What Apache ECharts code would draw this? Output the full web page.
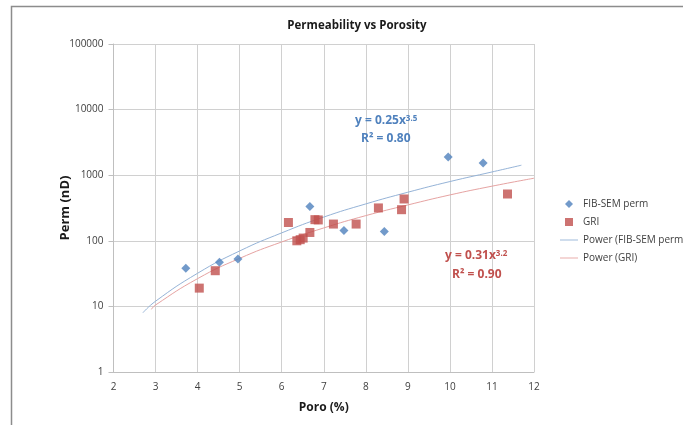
<!DOCTYPE html>
<html>
<head>
<meta charset="utf-8">
<script src="https://cdn.jsdelivr.net/npm/echarts@6/dist/echarts.min.js"></script>
<style>
  html, body { margin: 0; padding: 0; background: #fff; }
  #chartArea { width: 683px; height: 425px; }
</style>
</head>
<body>
<div id="chartArea"></div>
<script>
// 数据 - 读自原图
var fibPoro = [3.72, 4.52, 4.96, 6.67, 7.48, 8.44, 9.96, 10.79];
var fibPerm = [38, 47, 53, 334, 143, 139, 1890, 1530];

var griPoro = [4.04, 4.42, 6.16, 6.36, 6.44, 6.51, 6.67, 6.79, 6.87, 7.23, 7.77, 8.30, 8.85, 8.91, 11.37];
var griPerm = [19, 35, 190, 100, 104, 110, 134, 210, 208, 180, 180, 317, 298, 434, 517];

// 趋势线 (读自图上的曲线)
var fibTrendPoro = [2.7, 3, 4, 5, 6, 7, 8, 9, 10, 11, 11.7];
var fibTrendPerm = [8, 12, 32, 70, 132, 230, 365, 550, 800, 1120, 1420];
var griTrendPoro = [2.9, 3, 4, 5, 6, 7, 8, 9, 10, 11, 12];
var griTrendPerm = [9, 10.5, 26.5, 54, 96, 157, 242, 352, 500, 680, 900];

var seriesNames = ['FIB-SEM perm', 'GRI', 'Power (FIB-SEM perm)', 'Power (GRI)'];
var xTicks = [2, 3, 4, 5, 6, 7, 8, 9, 10, 11, 12];
var yTicks = [1, 10, 100, 1000, 10000, 100000];

function pairs(xs, ys) {
    var out = [];
    for (var i = 0; i < xs.length; i++) {
        out.push([xs[i], ys[i]]);
    }
    return out;
}

var dom = document.getElementById('chartArea');
var myChart = echarts.init(dom, null, {renderer: 'canvas'});

var fontName = '"Open Sans", "Liberation Sans", sans-serif';
var textGray = '#404040';
var blueMark = '#4f81bd';
var redMark = '#c0504d';

var option = {
    animation: false,
    backgroundColor: '#fff',
    textStyle: {fontFamily: fontName},
    title: {
        text: 'Permeability vs Porosity',
        left: 352,
        top: 15,
        textAlign: 'center',
        textStyle: {fontSize: 11.5, fontWeight: 'bold', color: '#1a1a1a', fontFamily: fontName}
    },
    legend: {
        orient: 'vertical',
        left: 555,
        top: 194,
        itemWidth: 18,
        itemHeight: 8,
        itemGap: 8,
        textStyle: {fontSize: 10, color: textGray, fontFamily: fontName},
        data: [
            {name: seriesNames[0], icon: 'path://M5,0 L10,5 L5,10 L0,5 Z'},
            {name: seriesNames[1], icon: 'path://M0,0 H10 V10 H0 Z'},
            {name: seriesNames[2], icon: 'path://M0,0 H20 V1 H0 Z'},
            {name: seriesNames[3], icon: 'path://M0,0 H20 V1 H0 Z'}
        ]
    },
    grid: {
        left: 113.5,
        right: 149,
        top: 44,
        bottom: 53
    },
    xAxis: {
        type: 'value',
        min: xTicks[0],
        max: xTicks[xTicks.length - 1],
        interval: 1,
        name: 'Poro (%)',
        nameLocation: 'middle',
        nameGap: 30,
        nameTextStyle: {fontSize: 12, fontWeight: 'bold', color: '#1a1a1a'},
        axisLine: {show: true, lineStyle: {color: '#bfbfbf'}},
        axisTick: {show: false},
        axisLabel: {fontSize: 10, color: textGray, margin: 10},
        splitLine: {show: true, lineStyle: {color: '#d0d0d0', width: 1}}
    },
    yAxis: {
        type: 'log',
        logBase: 10,
        min: yTicks[0],
        max: yTicks[yTicks.length - 1],
        name: 'Perm (nD)',
        nameLocation: 'middle',
        nameGap: 42,
        nameMoveOverlap: false,
        nameTextStyle: {fontSize: 13, fontWeight: 'bold', color: '#1a1a1a'},
        axisLine: {show: true, lineStyle: {color: '#bfbfbf'}},
        axisTick: {show: true, length: 5, lineStyle: {color: '#bfbfbf'}},
        axisLabel: {
            fontSize: 10,
            color: textGray,
            margin: 10,
            formatter: function (value) {
                return String(Math.round(value));
            }
        },
        splitLine: {show: true, lineStyle: {color: '#d0d0d0', width: 1}},
        minorSplitLine: {show: false}
    },
    graphic: [
        {
            type: 'polyline',
            silent: true,
            shape: {points: [[11.5, 425], [11.5, 6.5], [683, 6.5]]},
            style: {stroke: '#8c8c8c', lineWidth: 1.5, fill: null}
        },
        {
            type: 'text',
            left: 355,
            top: 115,
            z: 100,
            silent: true,
            style: {
                text: '{b|y = 0.25x}{s|3.5}',
                rich: {
                    b: {fontSize: 12, fontWeight: 'bold', fill: blueMark, fontFamily: fontName, verticalAlign: 'bottom'},
                    s: {fontSize: 8, fontWeight: 'bold', fill: blueMark, fontFamily: fontName, verticalAlign: 'top'}
                }
            }
        },
        {
            type: 'text',
            left: 361,
            top: 133,
            z: 100,
            silent: true,
            style: {text: 'R² = 0.80', fontSize: 12, fontWeight: 'bold', fill: blueMark, fontFamily: fontName}
        },
        {
            type: 'text',
            left: 445,
            top: 250,
            z: 100,
            silent: true,
            style: {
                text: '{b|y = 0.31x}{s|3.2}',
                rich: {
                    b: {fontSize: 12, fontWeight: 'bold', fill: redMark, fontFamily: fontName, verticalAlign: 'bottom'},
                    s: {fontSize: 8, fontWeight: 'bold', fill: redMark, fontFamily: fontName, verticalAlign: 'top'}
                }
            }
        },
        {
            type: 'text',
            left: 452,
            top: 269,
            z: 100,
            silent: true,
            style: {text: 'R² = 0.90', fontSize: 12, fontWeight: 'bold', fill: redMark, fontFamily: fontName}
        }
    ],
    series: [
        {
            name: seriesNames[2],
            type: 'line',
            smooth: true,
            symbol: 'none',
            z: 2,
            lineStyle: {width: 1, color: '#95b3d7'},
            itemStyle: {color: '#95b3d7'},
            data: pairs(fibTrendPoro, fibTrendPerm)
        },
        {
            name: seriesNames[3],
            type: 'line',
            smooth: true,
            symbol: 'none',
            z: 2,
            lineStyle: {width: 1, color: '#e6a3a2'},
            itemStyle: {color: '#e6a3a2'},
            data: pairs(griTrendPoro, griTrendPerm)
        },
        {
            name: seriesNames[0],
            type: 'scatter',
            symbol: 'diamond',
            symbolSize: 9,
            z: 3,
            itemStyle: {color: blueMark},
            data: pairs(fibPoro, fibPerm)
        },
        {
            name: seriesNames[1],
            type: 'scatter',
            symbol: 'rect',
            symbolSize: 9,
            z: 3,
            itemStyle: {color: redMark},
            data: pairs(griPoro, griPerm)
        }
    ]
};

myChart.setOption(option, true);
</script>
</body>
</html>
